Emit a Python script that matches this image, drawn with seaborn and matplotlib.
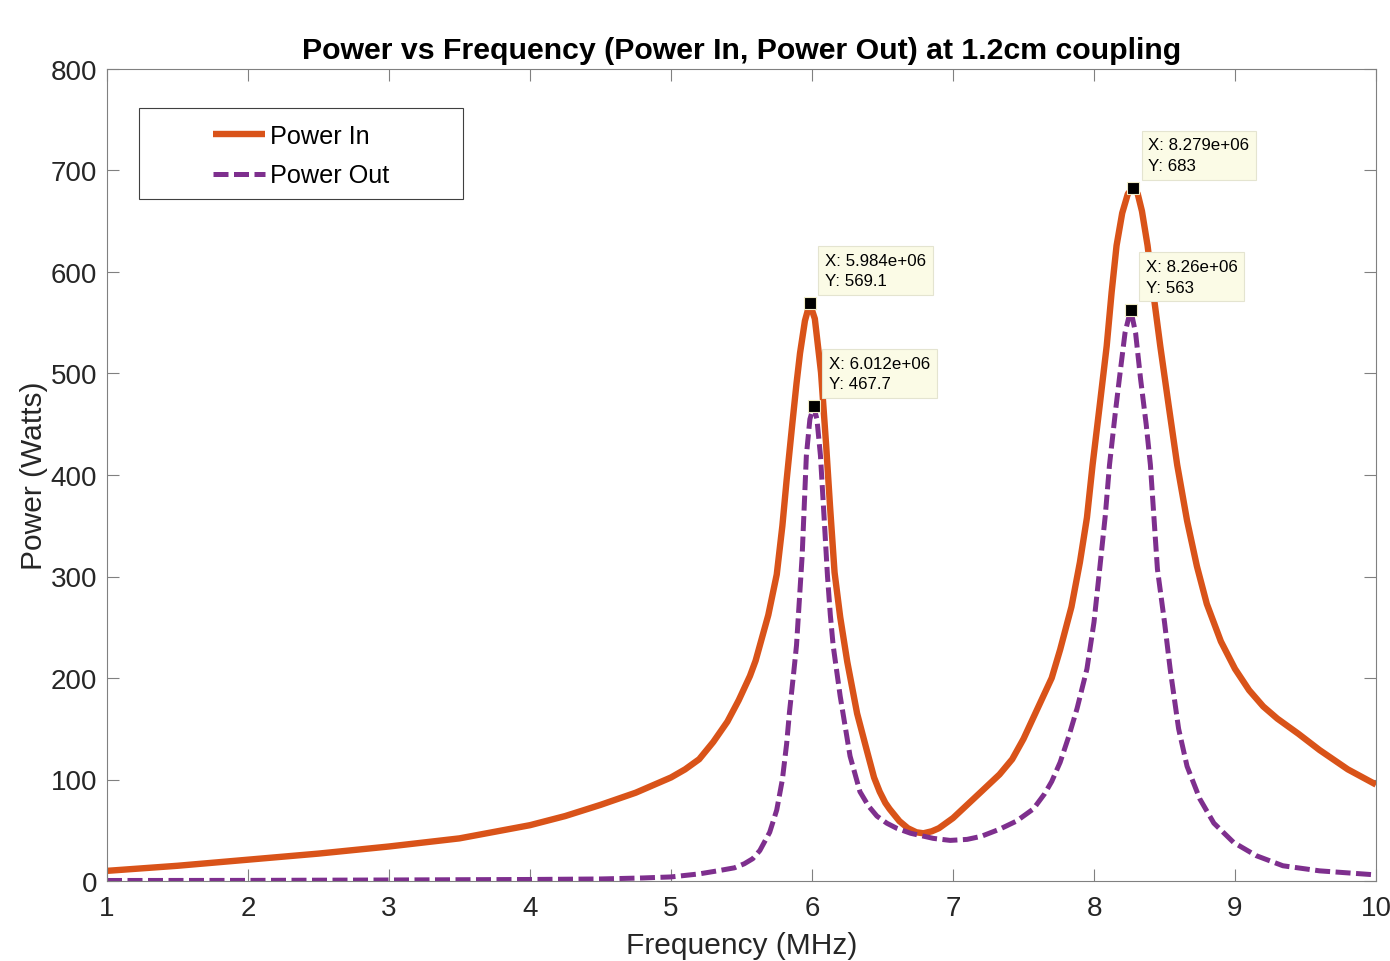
import matplotlib
matplotlib.use('Agg')
import matplotlib.pyplot as plt
from matplotlib.patches import Rectangle
import seaborn as sns

# Power In (x in MHz, y in W)
freq_in = [1.0, 1.5, 2.0, 2.5, 3.0, 3.5, 4.0, 4.25, 4.5, 4.75, 5.0, 5.1, 5.2,
           5.3, 5.4, 5.48, 5.56, 5.6, 5.69, 5.75, 5.79, 5.82, 5.86, 5.89,
           5.915, 5.95, 5.984, 6.02, 6.064, 6.1, 6.128, 6.16, 6.2, 6.25, 6.32,
           6.39, 6.44, 6.48, 6.52, 6.55, 6.62, 6.68, 6.74, 6.79, 6.85, 6.9,
           7.0, 7.1, 7.2, 7.33, 7.42, 7.5, 7.62, 7.7, 7.76, 7.84, 7.9, 7.95,
           7.99, 8.04, 8.09, 8.125, 8.16, 8.2, 8.24, 8.279, 8.31, 8.34, 8.38,
           8.42, 8.47, 8.53, 8.59, 8.66, 8.73, 8.8, 8.9, 9.0, 9.1, 9.2, 9.3,
           9.45, 9.6, 9.8, 10.0]
power_in = [10, 15, 21, 27, 34, 42, 55, 64, 75, 87, 102, 110, 120,
            137, 157, 178, 202, 217, 262, 302, 350, 395, 450, 490,
            520, 552, 569.1, 554, 501, 430, 369, 304, 260, 216, 165,
            128, 102, 88, 77, 71, 59, 52, 48, 47, 49, 52,
            62, 75, 88, 105, 120, 140, 176, 200, 228, 270, 314, 358,
            410, 468, 527, 580, 626, 658, 677, 683, 677, 660, 626,
            580, 527, 468, 410, 355, 310, 273, 236, 209, 188, 172, 160,
            145, 129, 110, 95]

# Power Out
freq_out = [1.0, 2.0, 3.0, 4.0, 4.5, 4.8, 5.0, 5.2, 5.33, 5.45, 5.52, 5.58,
            5.63, 5.7, 5.75, 5.79, 5.82, 5.84, 5.87, 5.89, 5.93, 5.96, 5.985,
            6.012, 6.035, 6.06, 6.085, 6.11, 6.13, 6.15, 6.2, 6.27, 6.34,
            6.4, 6.46, 6.53, 6.6, 6.7, 6.86, 6.98, 7.1, 7.2, 7.33, 7.45,
            7.57, 7.65, 7.7, 7.76, 7.82, 7.88, 7.95, 8.0, 8.04, 8.08, 8.11,
            8.15, 8.18, 8.22, 8.26, 8.295, 8.33, 8.37, 8.4, 8.45, 8.5, 8.54,
            8.6, 8.66, 8.75, 8.85, 8.99, 9.15, 9.34, 9.6, 9.8, 10.0]
power_out = [0.5, 0.6, 1, 1.5, 2, 3, 4, 7, 10, 13, 17, 22,
             30, 48, 70, 100, 135, 166, 205, 232, 320, 419, 455,
             467.7, 455, 419, 360, 300, 262, 232, 182, 123, 88,
             74, 64, 57, 52, 47, 42, 40, 41, 44, 51, 59,
             71, 86, 98, 117, 142, 170, 209, 255, 307, 360, 410,
             460, 495, 540, 563, 540, 495, 450, 410, 307, 255, 209,
             150, 113, 81, 57, 38, 25, 15, 10, 8, 6]

# data tips
tip_x = [5.984, 6.012, 8.279, 8.26]
tip_y = [569.1, 467.7, 683, 563]

x_ticks = list(range(1, 11))
y_ticks = list(range(0, 801, 100))

C_IN = '#D95319'
C_OUT = '#7E2F8E'
GRAY = '#808080'
TXT = '#262626'

sns.set_style('ticks')
plt.rcParams['font.family'] = ['Liberation Sans', 'DejaVu Sans']

fig = plt.figure(figsize=(13.9, 9.62), dpi=100)
ax = fig.add_axes([107 / 1390, 80 / 962, 1269 / 1390, 812 / 962])

sns.lineplot(x=freq_in, y=power_in, ax=ax, color=C_IN, linewidth=4.6,
             label='Power In', sort=False, solid_joinstyle='round',
             solid_capstyle='butt')
sns.lineplot(x=freq_out, y=power_out, ax=ax, color=C_OUT, linewidth=3.6,
             label='Power Out', sort=False, linestyle='--',
             dash_joinstyle='round')
ax.lines[1].set_dashes((3, 1.1))

ax.set_xlim(1, 10)
ax.set_ylim(0, 800)
ax.set_xticks(x_ticks)
ax.set_yticks(y_ticks)
ax.tick_params(direction='in', length=8.5, width=0.8, color=GRAY,
               labelsize=20, labelcolor=TXT, top=True, right=True)
ax.tick_params(axis='x', pad=10)
ax.tick_params(axis='y', pad=7)
for s in ax.spines.values():
    s.set_visible(True)
    s.set_color(GRAY)
    s.set_linewidth(0.8)

ax.set_title('Power vs Frequency (Power In, Power Out) at 1.2cm coupling',
             fontsize=21.8, fontweight='bold', color='black', pad=8)
ax.set_xlabel('Frequency (MHz)', fontsize=21.5, color=TXT, labelpad=7)
ax.set_ylabel('Power (Watts)', fontsize=21.5, color=TXT, labelpad=2)

# data tip markers and boxes
for x, y in zip(tip_x, tip_y):
    ax.plot([x], [y], marker='s', markersize=9, color='black',
            markeredgecolor='#f0ecc8', markeredgewidth=0.8, zorder=5)
    label = f"X: {x * 1e6:.4g}\nY: {y:.4g}"
    ax.annotate(label, (x, y), xytext=(15, 15), textcoords='offset pixels',
                ha='left', va='bottom', fontsize=12.2, color='black',
                linespacing=1.45, zorder=6,
                bbox=dict(boxstyle='square,pad=0.4', fc='#fbfbe6',
                          ec='#e4e4d0', lw=0.8))

# legend, MATLAB-like box drawn separately
leg = ax.legend(loc='upper left', bbox_to_anchor=(0.0835, 0.932),
                frameon=False, fontsize=18.2, handlelength=2.05,
                handletextpad=0.2, labelspacing=0.6, borderpad=0,
                borderaxespad=0)
for t in leg.get_texts():
    t.set_color('black')
ax.add_patch(Rectangle((0.0252, 0.840), 0.2553, 0.112, transform=ax.transAxes,
                       fill=False, ec='#404040', lw=0.8, zorder=4))

fig.savefig('out.png', dpi=100)
